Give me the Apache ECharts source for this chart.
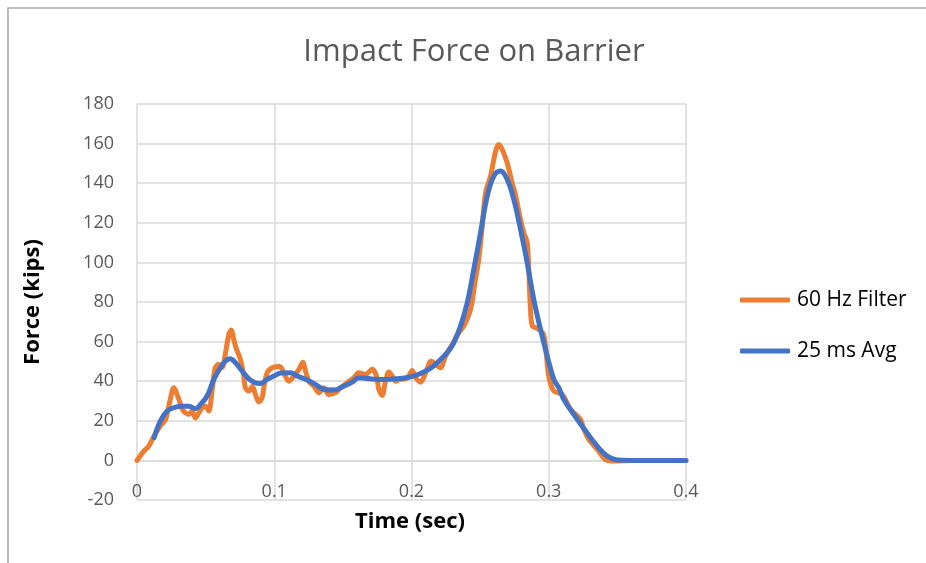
<!DOCTYPE html>
<html>
<head>
<meta charset="utf-8">
<script src="https://cdn.jsdelivr.net/npm/echarts@6/dist/echarts.min.js"></script>
<style>
  html, body { margin: 0; padding: 0; background: #fff; }
  #chart { width: 926px; height: 563px; }
</style>
</head>
<body>
<div id="chart"></div>
<script>
// 60 Hz filtered barrier force (time in s, force in kips)
const filterTime = [
  0, 0.005, 0.0086, 0.0118, 0.0165, 0.0208, 0.024, 0.0268, 0.0305, 0.033,
  0.0353, 0.0378, 0.040, 0.0426, 0.045, 0.0475, 0.050, 0.0523, 0.0548, 0.057,
  0.0596, 0.062, 0.0645, 0.0669, 0.0686, 0.0705, 0.0725, 0.075, 0.0774, 0.079,
  0.0815, 0.084, 0.0863, 0.0888, 0.0912, 0.0924, 0.0948, 0.0985, 0.104, 0.108,
  0.1106, 0.1143, 0.118, 0.1208, 0.1228, 0.1252, 0.1288, 0.1325, 0.1361, 0.1397,
  0.1446, 0.1483, 0.1531, 0.158, 0.1616, 0.1665, 0.1714, 0.1745, 0.1762, 0.1786,
  0.181, 0.1835, 0.186, 0.1883, 0.192, 0.1969, 0.2005, 0.203, 0.2066, 0.2102,
  0.2144, 0.2175, 0.2211, 0.2248, 0.2297, 0.2345, 0.2381, 0.243, 0.2466, 0.249,
  0.2515, 0.2539, 0.2576, 0.2612, 0.2636, 0.2661, 0.2697, 0.2733, 0.2758, 0.2794,
  0.2818, 0.2843, 0.2855, 0.2867, 0.288, 0.292, 0.296, 0.2976, 0.300, 0.3037,
  0.3098, 0.3158, 0.3231, 0.3256, 0.3292, 0.3353, 0.3413, 0.3474, 0.36, 0.40
];
const filterForce = [
  0, 4.7, 7.2, 11.5, 17, 20.7, 30, 36.7, 30.8, 25.8,
  24, 23.2, 24.9, 21.5, 24, 26.6, 27.4, 24.9, 35.9, 46.8,
  48.5, 47, 54.4, 63.6, 65.8, 61, 56, 51.9, 44.3, 36.7,
  35, 37.5, 33.3, 29.5, 31.7, 36.7, 44.3, 46.8, 47.4, 42.6,
  40, 42.6, 46, 49.6, 45.1, 40, 37.5, 34.2, 36.7, 33.3,
  34.2, 36.7, 39.2, 41.8, 44.3, 43.4, 46, 42.6, 35.9, 32.8,
  40, 44.6, 42.6, 40, 41, 41.5, 45.4, 41.8, 39.5, 44,
  50.2, 48.5, 46.8, 52.7, 58.6, 64.5, 67.8, 76.3, 91.4, 101.5,
  118, 135, 143.6, 156, 159.5, 157, 150.3, 140.2, 134, 121.7,
  115, 110, 95, 76.3, 68, 66.5, 64, 57.7, 42.6, 35,
  33.3, 25.8, 20.7, 15.7, 10.6, 5.6, 0.5, -0.3, 0, 0
];

// 25 ms moving average of the same record
const avgTime = [
  0.0125, 0.017, 0.022, 0.0268, 0.0317, 0.0378, 0.0426, 0.0463, 0.0511, 0.056,
  0.0608, 0.0645, 0.0677, 0.0718, 0.0766, 0.0815, 0.0863, 0.090, 0.0948, 0.0997,
  0.1045, 0.1118, 0.1167, 0.124, 0.130, 0.136, 0.1434, 0.1507, 0.1568, 0.1616,
  0.1701, 0.1798, 0.1896, 0.1993, 0.2066, 0.2134, 0.2187, 0.226, 0.2308, 0.2357,
  0.2406, 0.2454, 0.2503, 0.2552, 0.26, 0.2648, 0.2697, 0.2745, 0.2794, 0.2843,
  0.2891, 0.294, 0.2989, 0.3037, 0.3073, 0.311, 0.3183, 0.3256, 0.3353, 0.3426,
  0.35, 0.36, 0.40
];
const avgForce = [
  11.5, 19.8, 24.9, 26.6, 27.4, 27.4, 26.1, 28.3, 32.5, 40.9,
  46.8, 50.2, 51.3, 49.3, 45.1, 41.2, 39.2, 38.9, 40.9, 42.6,
  44.1, 44.3, 42.6, 40.6, 38.4, 35.9, 35.5, 37.5, 39.5, 41.8,
  41.2, 40.9, 41.2, 42.2, 43.9, 46.3, 49.3, 54.4, 59.4, 67.8,
  79.6, 96.5, 115, 133.5, 143.6, 146.1, 141.9, 131.8, 116.7, 99.8,
  81.3, 66.2, 52.7, 40.9, 36.7, 30.8, 23.2, 16.1, 7.2, 2.2,
  0.2, 0, 0
];

const seriesNames = ['60 Hz Filter', '25 ms Avg'];
const xTicks = [0, 0.1, 0.2, 0.3, 0.4];
const yTicks = [-20, 0, 20, 40, 60, 80, 100, 120, 140, 160, 180];

const pairs = (xs, ys) => xs.map((x, i) => [x, ys[i]]);

const FONT = '"Open Sans", "Liberation Sans", sans-serif';
const GRID = '#d9d9d9';
const LABEL = '#595959';

const chart = echarts.init(document.getElementById('chart'), null, { renderer: 'canvas' });

chart.setOption({
  animation: false,
  backgroundColor: '#ffffff',
  grid: { left: 137, right: 240, top: 104, bottom: 63, containLabel: false },
  xAxis: {
    type: 'value',
    min: xTicks[0],
    max: xTicks[xTicks.length - 1],
    interval: 0.1,
    axisLine: { show: true, onZero: true, lineStyle: { color: GRID, width: 1.5 } },
    axisTick: { show: false },
    // labels sit just under the zero line, inside the plot
    axisLabel: {
      color: LABEL, fontFamily: FONT, fontSize: 18, margin: -17,
      formatter: v => String(+v.toFixed(1))
    },
    splitLine: { show: true, lineStyle: { color: GRID, width: 1.5 } }
  },
  yAxis: {
    type: 'value',
    min: yTicks[0],
    max: yTicks[yTicks.length - 1],
    interval: 20,
    axisLine: { show: false },
    axisTick: { show: false },
    axisLabel: { color: LABEL, fontFamily: FONT, fontSize: 18, margin: 23 },
    splitLine: { show: true, lineStyle: { color: GRID, width: 1.5 } }
  },
  legend: {
    orient: 'vertical',
    left: 740,
    top: 289,
    padding: 0,
    itemWidth: 50,
    itemHeight: 5,
    itemGap: 29,
    icon: 'roundRect',
    textStyle: { color: '#000', fontFamily: FONT, fontSize: 21, lineHeight: 22, padding: [0, 0, 0, 2] },
    data: seriesNames
  },
  series: [
    {
      name: seriesNames[0],
      type: 'line',
      data: pairs(filterTime, filterForce),
      symbol: 'none',
      smooth: 0.3,
      color: '#ED7D31',
      lineStyle: { width: 5, color: '#ED7D31', cap: 'round', join: 'round' },
      z: 2
    },
    {
      name: seriesNames[1],
      type: 'line',
      data: pairs(avgTime, avgForce),
      symbol: 'none',
      smooth: 0.4,
      color: '#4472C4',
      lineStyle: { width: 5, color: '#4472C4', cap: 'round', join: 'round' },
      z: 3
    }
  ],
  graphic: [
    {
      type: 'rect', silent: true, z: -10,
      shape: { x: 8, y: 8, width: 940, height: 580 },
      style: { fill: 'none', stroke: '#a6a6a6', lineWidth: 1.5 }
    },
    {
      type: 'text', z: 10,
      x: 474, y: 52,
      style: {
        x: 0, y: 0, text: 'Impact Force on Barrier',
        fill: LABEL, font: '31px ' + FONT,
        textAlign: 'center', textVerticalAlign: 'middle'
      }
    },
    {
      type: 'text',
      x: 33, y: 302, rotation: Math.PI / 2,
      style: {
        x: 0, y: 0, text: 'Force (kips)',
        fill: '#000', font: 'bold 22px ' + FONT,
        textAlign: 'center', textVerticalAlign: 'middle'
      }
    },
    {
      type: 'text',
      x: 410, y: 522,
      style: {
        x: 0, y: 0, text: 'Time (sec)',
        fill: '#000', font: 'bold 22px ' + FONT,
        textAlign: 'center', textVerticalAlign: 'middle'
      }
    }
  ]
});
</script>
</body>
</html>
